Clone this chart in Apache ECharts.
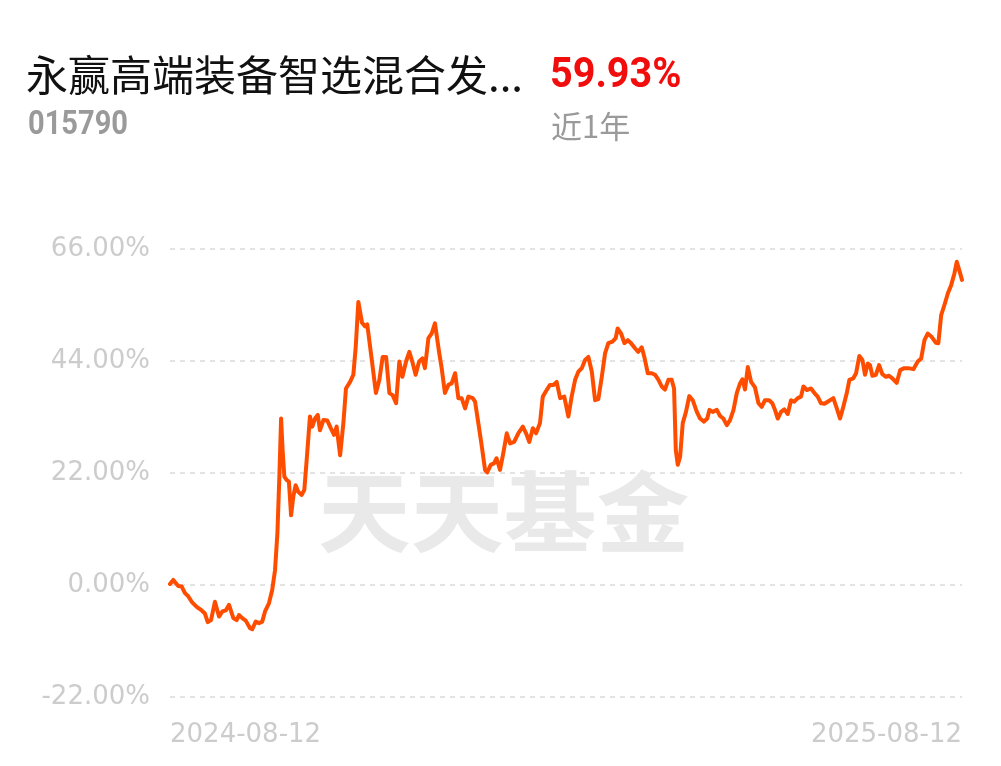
<!DOCTYPE html>
<html>
<head>
<meta charset="utf-8">
<script src="https://cdn.jsdelivr.net/npm/echarts@6/dist/echarts.min.js"></script>
<style>
html,body{margin:0;padding:0;background:#fff;}
#chart{width:1001px;height:766px;}
</style>
</head>
<body>
<div id="chart"></div>
<script>
// ---- data (days since 2024-08-12, cumulative return %) ----
var fundName = '永赢高端装备智选混合发...';
var fundCode = '015790';
var periodReturn = '59.93%';
var periodLabel = '近1年';
var watermark = '天天基金';
var xTickLabels = ['2024-08-12', '2025-08-12'];
var yTicks = [-22, 0, 22, 44, 66];

var days = [
  0, 1.5, 3.8, 5.4, 6.9, 8.4, 10.0, 12.3, 14.6, 16.1, 17.4, 18.9, 20.7, 22.6, 24.1, 25.7, 27.2, 29.2, 30.7, 31.8,
  33.3, 34.9, 36.9, 37.9, 39.5, 41.0, 42.5, 43.8, 45.6, 47.1, 48.4, 49.5, 50.4, 51.2, 51.9, 52.7, 53.8, 54.8, 55.8, 56.8,
  57.9, 59.1, 60.7, 61.9, 63.0, 64.5, 65.6, 66.8, 68.1, 69.1, 70.7, 72.5, 74.1, 75.6, 76.8, 78.4, 79.9, 81.1, 83.0, 84.5,
  85.6, 86.8, 88.5, 89.9, 90.9,
  93.0, 94.9, 96.5, 98.0, 99.6, 101.1, 102.6, 104.2, 105.7, 107.1, 108.8, 110.3, 111.9, 113.2, 114.8, 116.3, 117.5, 119.1, 120.6, 122.1,
  124.1, 125.2, 126.7, 128.3, 129.8, 131.4, 132.9, 134.4, 136.0, 137.5, 139.5, 140.6, 142.1, 143.7, 145.2, 146.2, 147.8, 149.3, 150.5, 152.1,
  153.6, 155.2, 156.7, 158.6, 160.5, 162.6, 164.1, 165.6, 167.2, 168.7, 170.5, 171.8, 173.6, 175.1, 176.7,
  178.2, 179.8, 181.7, 183.6, 185.1, 186.7, 188.2, 189.8, 191.3, 192.8, 194.4, 195.9, 197.4, 199.0, 200.5, 202.0, 203.9, 205.4, 206.3, 207.9,
  209.4, 211.0, 212.5, 214.3, 215.8, 217.4, 218.6, 220.2, 222.0, 223.5, 225.1, 226.6, 228.1, 229.7, 231.2, 232.3, 233.1, 234.0, 235.1, 236.3,
  237.8, 239.3, 240.9, 242.8, 244.3, 246.1, 247.6, 248.6, 250.1, 252.0, 253.5, 255.0, 256.6, 258.1, 259.7, 261.2, 262.7, 263.8, 265.0, 266.3,
  267.8,
  269.6, 271.2, 272.7, 274.2, 276.1, 277.6, 278.8, 280.1, 281.6, 283.1, 284.7, 286.2, 287.7, 289.3, 290.8, 291.9, 293.5, 295.4, 297.0, 298.5,
  300.0, 301.6, 303.1, 305.7, 307.3, 308.8, 310.3, 311.9, 313.1, 314.9, 316.2, 317.7, 319.1, 320.3, 321.6, 322.6, 323.7, 325.3, 326.8, 328.3,
  329.9, 331.4, 332.9, 334.9, 336.5, 338.4, 340.3, 342.6, 344.6, 346.2, 347.7, 349.2, 351.1, 352.9, 354.1, 355.4, 356.9, 358.5, 360.0, 361.5,
  362.6, 363.7, 365
];
var returns = [
  0.2, 1.0, -0.2, -0.3, -1.6, -2.2, -3.3, -4.3, -5.0, -5.6, -7.3, -6.9, -3.3, -6.2, -5.2, -5.0, -3.9, -6.5, -6.9, -5.9,
  -6.5, -7.0, -8.5, -8.7, -7.2, -7.5, -7.2, -5.2, -3.6, -1.0, 2.9, 10.2, 21.3, 32.7, 26.5, 21.3, 20.6, 20.3, 13.7, 17.3,
  19.6, 18.3, 17.7, 18.7, 24.6, 33.1, 31.1, 32.7, 33.4, 30.4, 32.4, 32.3, 30.8, 29.5, 31.1, 25.5, 31.8, 38.6, 39.9, 41.3,
  46.8, 55.6, 51.5, 50.8, 51.2,
  44.2, 37.7, 40.3, 44.8, 44.8, 37.7, 37.3, 35.7, 43.9, 40.9, 43.9, 45.8, 43.5, 41.3, 43.9, 44.5, 42.6, 48.5, 49.4, 51.4,
  45.5, 42.6, 37.7, 39.3, 39.6, 41.6, 36.7, 36.7, 34.7, 37.0, 36.7, 36.0, 31.8, 27.2, 22.6, 22.1, 23.6, 23.9, 24.9, 22.6,
  25.9, 29.8, 27.8, 28.1, 29.8, 31.1, 29.8, 28.1, 30.8, 29.8, 31.8, 37.0, 38.3, 39.3, 39.3,
  39.9, 36.7, 37.0, 33.1, 37.0, 40.3, 41.9, 42.6, 44.2, 44.8, 41.9, 36.3, 36.5, 40.9, 45.5, 47.5, 47.8, 48.5, 50.4, 49.4,
  47.5, 48.1, 47.5, 46.5, 45.8, 46.7, 44.8, 41.6, 41.6, 41.3, 40.3, 39.0, 38.4, 40.3, 40.3, 38.6, 26.5, 23.6, 25.2, 31.8,
  34.0, 37.1, 36.3, 34.0, 32.7, 32.1, 32.7, 34.4, 34.0, 34.4, 33.2, 32.7, 31.4, 32.4, 34.4, 37.7, 39.6, 40.4, 38.4, 42.8,
  39.9,
  38.8, 35.7, 35.0, 36.3, 36.3, 35.7, 34.4, 32.7, 34.0, 34.5, 33.6, 36.3, 36.0, 36.7, 37.0, 39.0, 38.3, 38.6, 37.7, 37.0,
  35.7, 35.6, 36.0, 36.7, 34.7, 32.7, 35.0, 37.7, 40.3, 40.6, 41.6, 45.0, 44.2, 41.3, 43.5, 43.2, 41.1, 41.3, 43.2, 41.4,
  40.9, 41.1, 40.6, 39.7, 42.2, 42.6, 42.6, 42.4, 43.9, 44.5, 48.1, 49.4, 48.7, 47.6, 47.5, 53.0, 55.0, 57.3, 58.9, 61.2,
  63.5, 61.9, 59.93
];

var seriesData = days.map(function (d, i) { return [d, returns[i]]; });

var chart = echarts.init(document.getElementById('chart'), null, {renderer: 'canvas'});
var axisFont = 'DejaVu Sans';
chart.setOption({
  animation: false,
  backgroundColor: '#ffffff',
  grid: {left: 170, right: 39, top: 249, bottom: 69, containLabel: false},
  xAxis: {
    type: 'value',
    min: 0,
    max: 365,
    interval: 365,
    axisLine: {show: false},
    axisTick: {show: false},
    splitLine: {show: false},
    axisLabel: {
      margin: 25,
      color: '#cccccc',
      fontSize: 26,
      fontFamily: axisFont,
      alignMinLabel: 'left',
      alignMaxLabel: 'right',
      formatter: function (v) { return v === 0 ? xTickLabels[0] : xTickLabels[1]; }
    }
  },
  yAxis: {
    type: 'value',
    min: yTicks[0],
    max: yTicks[yTicks.length - 1],
    interval: 22,
    axisLine: {show: false},
    axisTick: {show: false},
    splitLine: {lineStyle: {color: '#e3e3e3', width: 2, type: [5, 5]}},
    axisLabel: {
      margin: 20,
      color: '#cccccc',
      fontSize: 26,
      fontFamily: axisFont,
      formatter: function (v) { return v.toFixed(2) + '%'; }
    }
  },
  graphic: [
    {type: 'text', x: 318, y: 512, z: 1, silent: true, scaleX: 1.055,
     style: {text: watermark, fill: '#e9e9e9', font: 'bold 88px "Noto Sans CJK SC"', textVerticalAlign: 'middle'}},
    {type: 'text', x: 26, y: 75, z: 10,
     style: {text: fundName, fill: '#111111', font: '42px "Noto Sans CJK SC"', textVerticalAlign: 'middle'}},
    {type: 'text', x: 550, y: 76, z: 10, scaleX: 0.92,
     style: {text: periodReturn, fill: '#f20d0d', font: 'bold 43px Roboto', textVerticalAlign: 'middle'}},
    {type: 'text', x: 28, y: 126, z: 10, scaleX: 0.88,
     style: {text: fundCode, fill: '#9a9a9a', font: 'bold 33px Roboto', textVerticalAlign: 'middle'}},
    {type: 'text', x: 551, y: 126, z: 10,
     style: {text: periodLabel, fill: '#9a9a9a', font: '31px "Noto Sans CJK SC"', textVerticalAlign: 'middle'}}
  ],
  series: [{
    type: 'line',
    data: seriesData,
    showSymbol: false,
    smooth: false,
    z: 5,
    lineStyle: {color: '#ff4d00', width: 4, join: 'round', cap: 'round'}
  }]
});
</script>
</body>
</html>
